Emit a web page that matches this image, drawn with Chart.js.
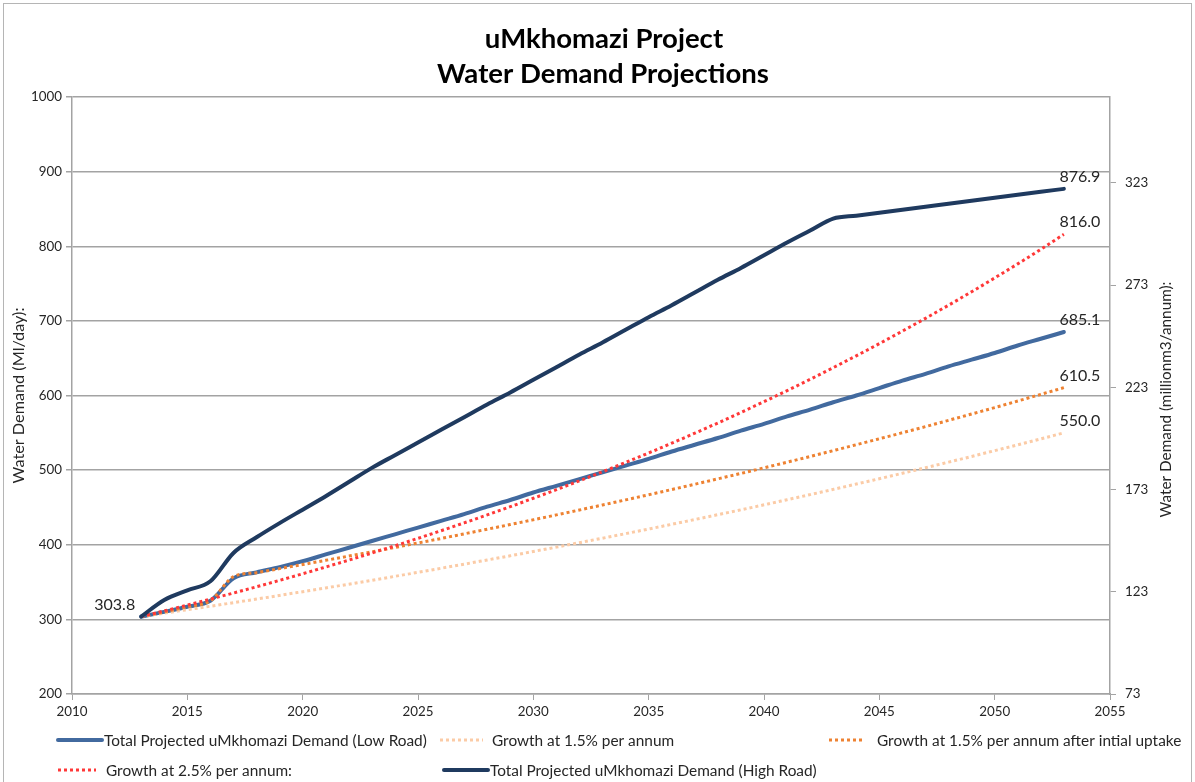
<!DOCTYPE html>
<html><head><meta charset="utf-8">
<script src="https://cdn.jsdelivr.net/npm/chart.js@4.4.0/dist/chart.umd.min.js"></script>
<style>html,body{margin:0;padding:0;background:#fff;overflow:hidden}#wrap{width:1195px;height:782px;position:relative}</style>
</head><body><div id="wrap"><canvas id="c" width="1195" height="782"></canvas></div>
<script>
// ---- data ----
const years = [2013,2014,2015,2016,2017,2018,2019,2020,2021,2022,2023,2024,2025,2026,2027,2028,2029,2030,2031,2032,2033,2034,2035,2036,2037,2038,2039,2040,2041,2042,2043,2044,2045,2046,2047,2048,2049,2050,2051,2052,2053];
const lowRoad = [303.8,310,317,325,355,363,370,378,387,396,405,414,423,432,441,451,460,470,479,488,497,506,515,525,534,543,553,562,572,581,591,600,610,620,629,639,648,657,667,676,685.1];
const growth15 = [303.8,308.3,313.0,317.6,322.4,327.2,332.1,337.1,342.1,347.2,352.4,357.7,363.0,368.5,374.0,379.6,385.2,391.0,396.8,402.8,408.8,414.9,421.1,427.4,433.8,440.3,446.8,453.5,460.3,467.2,474.2,481.3,488.5,495.8,503.2,510.7,518.3,526.1,533.9,541.9,550.0];
const growth15After = [303.8,310,317,325,357.2,362.6,368.0,373.5,379.1,384.8,390.6,396.4,402.4,408.4,414.6,420.8,427.1,433.5,440.0,446.6,453.3,460.1,467.0,474.0,481.1,488.3,495.6,503.1,510.6,518.3,526.1,534.0,542.0,550.1,558.3,566.7,575.2,583.8,592.6,601.5,610.5];
const growth25 = [303.8,311.4,319.2,327.2,335.3,343.7,352.3,361.1,370.2,379.4,388.9,398.6,408.6,418.8,429.3,440.0,451.0,462.3,473.8,485.7,497.8,510.3,523.0,536.1,549.5,563.2,577.3,591.8,606.5,621.7,637.3,653.2,669.5,686.3,703.4,721.0,739.0,757.5,776.4,795.8,816.0];
const highRoad = [303.8,326,339,351,389,410,429,447,465,484,503,520,537,554,571,588,604,621,638,655,671,688,705,721,738,755,771,788,805,821,837,841,845,849,853,857,861,865,869,873,876.9];
const seriesNames = ["Total Projected uMkhomazi Demand (Low Road)","Growth at 1.5% per annum","Growth at 1.5% per annum after intial uptake","Growth at 2.5% per annum:","Total Projected uMkhomazi Demand (High Road)"];
const titleLines = ["uMkhomazi Project","Water Demand Projections"];
const leftAxisTitle = "Water Demand (Ml/day):";
const rightAxisTitle = "Water Demand (millionm3/annum):";
const xRange = [2010, 2055];
const leftRange = [200, 1000];
const rightRange = [73, 365];
const rightTicks = [73,123,173,223,273,323];

// ---- styling ----
const FAM = 'Lato, "Open Sans", sans-serif';
const TXT = '#262626';
const GRID = '#A3A3A3';
const C_LOW = '#426A9F', C_HIGH = '#1F3A5F', C_RED = '#FF3838', C_OR = '#EE8232', C_PEACH = '#FBCBA6';

const mctx = document.createElement('canvas').getContext('2d');
function fit(text, w, weight){ mctx.font = weight+' 100px '+FAM; return 100*w/mctx.measureText(text).width; }
const tickSize = fit('2010', 31, 'normal');
const labelSize = fit('876.9', 41, 'normal');
const legendSize = fit(seriesNames[0], 323, 'normal');
const titleSize = fit(titleLines[1], 332, 'bold');
const leftTitleSize = fit(leftAxisTitle, 176, 'normal');
const rightTitleSize = fit(rightAxisTitle, 236, 'normal');

function pts(arr){ return arr.map((v,i)=>({x:years[i], y:v})); }

const styles = [
  {color:C_LOW, width:4, dash:[], order:5},
  {color:C_PEACH, width:3, dash:[3,3], order:4},
  {color:C_OR, width:3, dash:[3,3], order:3},
  {color:C_RED, width:3, dash:[3,3], order:2},
  {color:C_HIGH, width:4, dash:[], order:1}
];
const seriesData = [lowRoad, growth15, growth15After, growth25, highRoad];

const datasets = seriesData.map((d,i)=>({
  label: seriesNames[i], data: pts(d), borderColor: styles[i].color, backgroundColor: styles[i].color,
  borderWidth: styles[i].width, borderDash: styles[i].dash, pointRadius:0, order: styles[i].order,
  cubicInterpolationMode:'monotone', borderCapStyle: styles[i].dash.length ? 'butt':'round', borderJoinStyle:'round', yAxisID:'y'
}));

const legendPos = [
  {x:58, y:740, len:44, tx:104},
  {x:440, y:740, len:43, tx:492},
  {x:829, y:740, len:36, tx:877},
  {x:58, y:770, len:38, tx:106},
  {x:444, y:770, len:44, tx:490}
];

const deco = {
  id:'deco',
  afterDraw(chart){
    const ctx = chart.ctx, ca = chart.chartArea;
    ctx.save();
    // outer border
    ctx.strokeStyle = '#B5B5B5'; ctx.lineWidth = 1;
    ctx.strokeRect(3.5, 3.5, 1188, 800);
    // title
    ctx.fillStyle = '#000'; ctx.textAlign='center'; ctx.textBaseline='middle';
    ctx.font = 'bold '+titleSize+'px '+FAM;
    ctx.fillText(titleLines[0], 604, 39);
    ctx.fillText(titleLines[1], 603, 74);
    // axis titles
    const midY = (ca.top+ca.bottom)/2;
    ctx.fillStyle = TXT;
    ctx.save(); ctx.translate(19, midY); ctx.rotate(-Math.PI/2);
    ctx.font = leftTitleSize+'px '+FAM; ctx.fillText(leftAxisTitle, 0, 0); ctx.restore();
    ctx.save(); ctx.translate(1166, midY+4); ctx.rotate(-Math.PI/2);
    ctx.font = rightTitleSize+'px '+FAM; ctx.fillText(rightAxisTitle, 0, 0); ctx.restore();
    // data labels
    ctx.font = labelSize+'px '+FAM; ctx.fillStyle = TXT;
    const first = chart.getDatasetMeta(0).data[0];
    ctx.textAlign='right'; ctx.fillText(lowRoad[0].toFixed(1), first.x-6, first.y-12);
    ctx.textAlign='center';
    seriesData.forEach((d,i)=>{
      const meta = chart.getDatasetMeta(i); const el = meta.data[meta.data.length-1];
      ctx.fillText(d[d.length-1].toFixed(1), el.x+16, el.y-12);
    });
    // legend
    ctx.font = legendSize+'px '+FAM; ctx.textAlign='left';
    legendPos.forEach((p,i)=>{
      const s = styles[i];
      ctx.save(); ctx.strokeStyle = s.color; ctx.lineWidth = s.width; ctx.setLineDash(s.dash);
      ctx.lineCap = s.dash.length ? 'butt' : 'round';
      ctx.beginPath(); ctx.moveTo(p.x, p.y); ctx.lineTo(p.x+p.len, p.y); ctx.stroke(); ctx.restore();
      ctx.fillStyle = TXT; ctx.fillText(seriesNames[i], p.tx, p.y+1);
    });
    ctx.restore();
  }
};

new Chart(document.getElementById('c'), {
  type:'line',
  data:{ datasets },
  options:{
    responsive:false, animation:false, devicePixelRatio:1,
    layout:{ padding:{ top:97, right:20, left:0, bottom:0 } },
    plugins:{ legend:{display:false}, title:{display:false}, tooltip:{enabled:false} },
    scales:{
      x:{ type:'linear', min:xRange[0], max:xRange[1],
          ticks:{ stepSize:5, callback:v=>String(v), font:{size:tickSize, family:FAM}, color:TXT, padding:4, maxRotation:0 },
          grid:{ drawOnChartArea:false, drawTicks:true, tickLength:6, color:GRID, lineWidth:1 },
          border:{ display:true, color:GRID, width:1.5 },
          afterFit:s=>{ s.height = 88; } },
      y:{ position:'left', min:leftRange[0], max:leftRange[1],
          ticks:{ stepSize:100, callback:v=>String(v), font:{size:tickSize, family:FAM}, color:TXT, padding:4 },
          grid:{ color:GRID, lineWidth:1.5, tickLength:6 },
          border:{ display:true, color:GRID, width:1.5 },
          afterFit:s=>{ s.width = 72; } },
      y2:{ position:'right', min:rightRange[0], max:rightRange[1],
          afterBuildTicks:s=>{ s.ticks = rightTicks.map(v=>({value:v})); },
          ticks:{ font:{size:tickSize, family:FAM}, color:TXT, padding:9, callback:v=>String(v) },
          grid:{ drawOnChartArea:false, drawTicks:true, tickLength:6, color:GRID, lineWidth:1 },
          border:{ display:true, color:GRID, width:1.5 },
          afterFit:s=>{ s.width = 65; } }
    }
  },
  plugins:[deco]
});
</script></body></html>
